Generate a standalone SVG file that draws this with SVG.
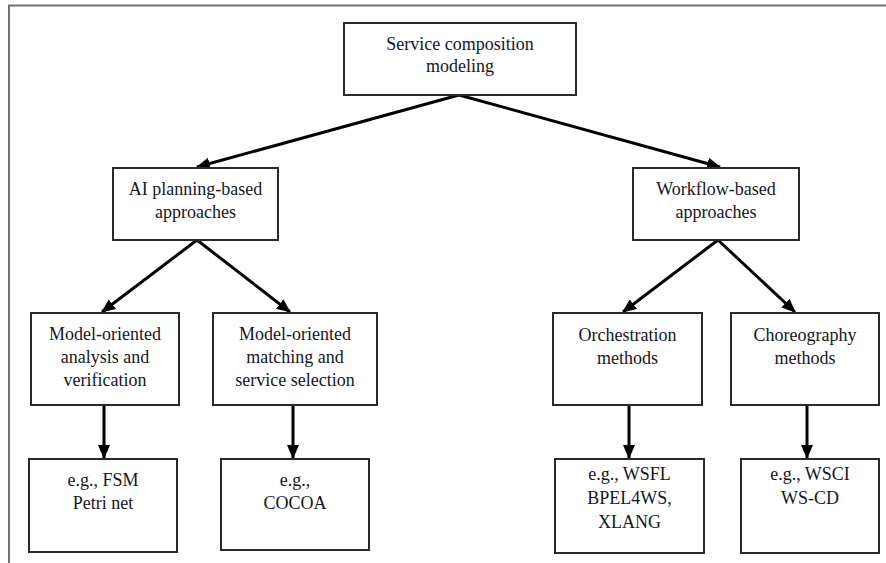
<svg xmlns="http://www.w3.org/2000/svg" width="886" height="563" viewBox="0 0 886 563">
  <style>
    .box { fill: #ffffff; stroke: #2a2a2a; stroke-width: 2; }
    .lbl { font-size: 18px; fill: #16161e; text-anchor: middle; }
    .edge { stroke: #000000; stroke-width: 3; fill: none; marker-end: url(#head); }
    .frame { stroke: #707070; stroke-width: 2; fill: none; }
  </style>
  <defs>
    <marker id="head" markerUnits="userSpaceOnUse" markerWidth="14" markerHeight="12" viewBox="0 0 14 12" refX="13" refY="6" orient="auto">
      <path d="M0,0 L14,6 L0,12 z" fill="#000000"/>
    </marker>
  </defs>
  <rect width="886" height="563" fill="#ffffff"/>

  <!-- outer frame (top and left edges) -->
  <path class="frame" d="M9,563 L9,5.5 L886,5.5"/>

  <!-- connectors -->
  <g id="connectors">
    <line class="edge" x1="459" y1="95" x2="197" y2="167"/>
    <line class="edge" x1="459" y1="95" x2="720" y2="167"/>
    <line class="edge" x1="197" y1="240" x2="102" y2="312"/>
    <line class="edge" x1="197" y1="240" x2="290" y2="312"/>
    <line class="edge" x1="718" y1="240" x2="623" y2="312"/>
    <line class="edge" x1="718" y1="240" x2="795" y2="312"/>
    <line class="edge" x1="104" y1="405" x2="104" y2="458"/>
    <line class="edge" x1="293" y1="405" x2="293" y2="458"/>
    <line class="edge" x1="629" y1="405" x2="629" y2="458"/>
    <line class="edge" x1="807" y1="405" x2="807" y2="458"/>
  </g>

  <g font-family="Liberation Serif, Times New Roman, serif">
  <g id="root">
    <rect class="box" x="344" y="23" width="232" height="72"/>
    <text class="lbl" x="460" y="50">Service composition</text>
    <text class="lbl" x="460" y="72">modeling</text>
  </g>

  <g id="ai-planning">
    <rect class="box" x="113" y="168" width="165" height="72"/>
    <text class="lbl" x="195.5" y="195">AI planning-based</text>
    <text class="lbl" x="195.5" y="218">approaches</text>
  </g>

  <g id="workflow">
    <rect class="box" x="633" y="168" width="166" height="72"/>
    <text class="lbl" x="716" y="195">Workflow-based</text>
    <text class="lbl" x="716" y="218">approaches</text>
  </g>

  <g id="model-analysis">
    <rect class="box" x="31" y="313" width="148" height="92"/>
    <text class="lbl" x="105" y="340">Model-oriented</text>
    <text class="lbl" x="105" y="363">analysis and</text>
    <text class="lbl" x="105" y="386">verification</text>
  </g>

  <g id="model-matching">
    <rect class="box" x="213" y="313" width="164" height="92"/>
    <text class="lbl" x="295" y="340">Model-oriented</text>
    <text class="lbl" x="295" y="363">matching and</text>
    <text class="lbl" x="295" y="386">service selection</text>
  </g>

  <g id="orchestration">
    <rect class="box" x="553" y="313" width="149" height="92"/>
    <text class="lbl" x="627.5" y="341">Orchestration</text>
    <text class="lbl" x="627.5" y="364">methods</text>
  </g>

  <g id="choreography">
    <rect class="box" x="731" y="313" width="148" height="92"/>
    <text class="lbl" x="805" y="341">Choreography</text>
    <text class="lbl" x="805" y="364">methods</text>
  </g>

  <g id="eg-fsm">
    <rect class="box" x="29" y="459" width="148" height="93"/>
    <text class="lbl" x="103" y="486">e.g., FSM</text>
    <text class="lbl" x="103" y="509">Petri net</text>
  </g>

  <g id="eg-cocoa">
    <rect class="box" x="221" y="459" width="148" height="91"/>
    <text class="lbl" x="295" y="486">e.g.,</text>
    <text class="lbl" x="295" y="509">COCOA</text>
  </g>

  <g id="eg-wsfl">
    <rect class="box" x="555" y="459" width="149" height="94"/>
    <text class="lbl" x="629.5" y="480">e.g., WSFL</text>
    <text class="lbl" x="629.5" y="504">BPEL4WS,</text>
    <text class="lbl" x="629.5" y="528">XLANG</text>
  </g>

  <g id="eg-wsci">
    <rect class="box" x="741" y="459" width="138" height="94"/>
    <text class="lbl" x="810" y="480">e.g., WSCI</text>
    <text class="lbl" x="810" y="504">WS-CD</text>
  </g>
  </g>
</svg>
